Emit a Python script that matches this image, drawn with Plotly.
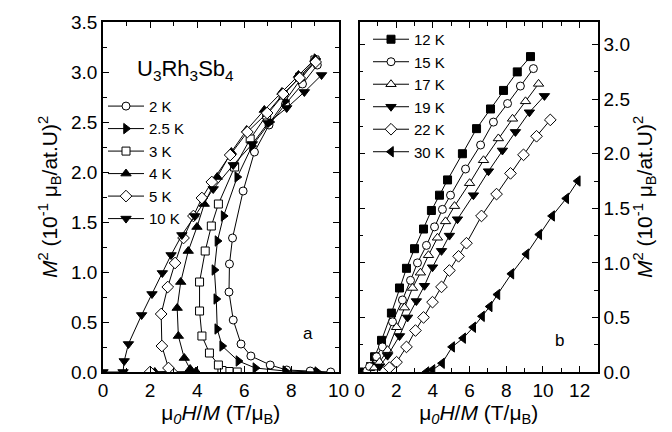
import plotly.graph_objects as go

# ---------------- Panel a (left) ----------------
x_2K = [9.67, 8.8, 7.8, 7.1, 6.28, 5.86, 5.53, 5.35, 5.37, 5.5, 5.95, 6.43, 7.05, 7.75, 8.47, 9.1]
y_2K = [0.0, 0.01, 0.02, 0.07, 0.16, 0.28, 0.52, 0.80, 1.08, 1.34, 1.81, 2.20, 2.47, 2.68, 2.88, 3.07]

x_25K = [9.1, 7.74, 6.47, 5.75, 5.06, 4.85, 4.81, 4.73, 4.86, 5.12, 5.7, 6.33, 7.1, 7.74, 8.4, 9.06]
y_25K = [0.0, 0.01, 0.04, 0.11, 0.26, 0.43, 0.73, 1.02, 1.31, 1.56, 1.95, 2.26, 2.50, 2.71, 2.93, 3.13]

x_3K = [5.7, 5.35, 5.05, 4.9, 4.52, 4.2, 4.1, 4.1, 4.34, 4.6, 4.9, 5.59, 6.25, 6.95, 7.65, 8.35, 9.0]
y_3K = [0.0, 0.005, 0.015, 0.07, 0.19, 0.36, 0.61, 0.9, 1.21, 1.46, 1.68, 2.05, 2.33, 2.57, 2.77, 2.95, 3.12]

x_4K = [2.2, 3.95, 3.7, 3.45, 3.2, 3.15, 3.3, 3.62, 3.99, 4.3, 4.85, 5.45, 6.1, 6.85, 7.6, 8.3, 9.0]
y_4K = [0.0, 0.005, 0.03, 0.14, 0.36, 0.64, 0.9, 1.21, 1.45, 1.68, 1.95, 2.2, 2.42, 2.62, 2.8, 2.97, 3.13]

x_5K = [2.0, 2.9, 2.78, 2.5, 2.47, 2.75, 3.06, 3.42, 3.84, 4.2, 4.62, 5.4, 6.13, 6.97, 7.65, 8.35, 9.03]
y_5K = [0.0, 0.005, 0.04, 0.26, 0.58, 0.85, 1.09, 1.34, 1.56, 1.74, 1.9, 2.17, 2.4, 2.59, 2.78, 2.94, 3.1]

x_10K = [0.0, 0.85, 0.9, 1.08, 1.64, 2.08, 2.52, 2.89, 3.35, 3.89, 4.68, 5.53, 6.34, 7.0, 7.8, 8.55, 9.28]
y_10K = [0.0, 0.0, 0.11, 0.28, 0.57, 0.78, 0.99, 1.17, 1.37, 1.56, 1.83, 2.07, 2.28, 2.49, 2.64, 2.8, 2.97]

# ---------------- Panel b (right) ----------------
x_12K = [0.0, 0.6, 0.82, 1.2, 1.74, 2.18, 2.56, 3.0, 3.49, 3.92, 4.36, 4.8, 5.61, 6.38, 7.14, 7.85, 8.6, 9.32]
y_12K = [0.0, 0.05, 0.14, 0.29, 0.54, 0.77, 0.95, 1.13, 1.31, 1.48, 1.62, 1.76, 2.0, 2.23, 2.41, 2.58, 2.75, 2.89]

x_15K = [0.4, 0.55, 0.93, 1.25, 1.8, 2.34, 2.78, 3.16, 3.65, 4.09, 4.52, 4.96, 5.78, 6.6, 7.3, 8.07, 8.77, 9.48]
y_15K = [0.01, 0.05, 0.14, 0.23, 0.46, 0.66, 0.84, 1.0, 1.16, 1.33, 1.49, 1.62, 1.86, 2.08, 2.29, 2.46, 2.62, 2.78]

x_17K = [0.82, 1.09, 1.53, 2.02, 2.45, 2.89, 3.32, 3.76, 4.25, 4.69, 5.18, 6.0, 6.76, 7.57, 8.34, 9.05, 9.76]
y_17K = [0.04, 0.09, 0.2, 0.41, 0.59, 0.77, 0.91, 1.07, 1.23, 1.38, 1.52, 1.73, 1.94, 2.14, 2.32, 2.48, 2.64]

x_19K = [1.09, 1.53, 2.18, 2.62, 3.1, 3.54, 3.98, 4.47, 4.9, 5.34, 6.21, 7.03, 7.79, 8.5, 9.26, 10.08]
y_19K = [0.05, 0.15, 0.33, 0.5, 0.65, 0.79, 0.96, 1.11, 1.25, 1.4, 1.62, 1.84, 2.03, 2.2, 2.38, 2.53]

x_22K = [1.63, 2.02, 2.56, 3.05, 3.49, 3.98, 4.47, 4.9, 5.4, 5.83, 6.65, 7.47, 8.23, 8.94, 9.65, 10.4]
y_22K = [0.04, 0.09, 0.23, 0.38, 0.5, 0.64, 0.78, 0.93, 1.06, 1.18, 1.43, 1.63, 1.82, 1.99, 2.16, 2.31]

x_30K = [3.65, 3.98, 4.5, 5.05, 5.65, 6.2, 6.68, 7.1, 7.52, 8.28, 9.1, 9.8, 10.5, 11.27, 11.9]
y_30K = [0.0, 0.02, 0.08, 0.23, 0.31, 0.41, 0.51, 0.6, 0.71, 0.9, 1.08, 1.26, 1.43, 1.59, 1.75]

left_series = [
    ("2 K", x_2K, y_2K, "circle", "white"),
    ("2.5 K", x_25K, y_25K, "triangle-right", "black"),
    ("3 K", x_3K, y_3K, "square", "white"),
    ("4 K", x_4K, y_4K, "triangle-up", "black"),
    ("5 K", x_5K, y_5K, "diamond", "white"),
    ("10 K", x_10K, y_10K, "triangle-down", "black"),
]
right_series = [
    ("12 K", x_12K, y_12K, "square", "black"),
    ("15 K", x_15K, y_15K, "circle", "white"),
    ("17 K", x_17K, y_17K, "triangle-up", "white"),
    ("19 K", x_19K, y_19K, "triangle-down", "black"),
    ("22 K", x_22K, y_22K, "diamond", "white"),
    ("30 K", x_30K, y_30K, "triangle-left", "black"),
]

FONT = "Liberation Sans, Arial, sans-serif"
fig = go.Figure()

def add(series, xa, ya, leg):
    for name, xs, ys, sym, fill in series:
        size = 9 if sym.startswith("triangle") or sym == "diamond" else 8
        fig.add_trace(go.Scatter(
            x=xs, y=ys, name=name, mode="lines+markers",
            xaxis=xa, yaxis=ya, legend=leg,
            line=dict(color="black", width=1),
            marker=dict(symbol=sym, size=size, color=fill,
                        line=dict(color="black", width=1)),
        ))

add(left_series, "x", "y", "legend")
add(right_series, "x2", "y2", "legend2")

W, H = 672, 432
L, R, T, B = 103, 74, 16, 60
pw = W - L - R
ph = H - T - B

def px(xp):
    return (xp - L) / pw

def py(yp):
    return (H - B - yp) / ph

common_axis = dict(
    showline=True, linecolor="black", linewidth=1.5, mirror="ticks",
    ticks="inside", ticklen=6, tickwidth=1.2, tickcolor="black",
    showgrid=False, zeroline=False,
    tickfont=dict(family=FONT, size=19, color="black"),
)
xtitle = "μ<sub><i>0</i></sub><i>H</i>/<i>M</i> (T/μ<sub>B</sub>)"
ytitle = "<i>M</i><sup>2</sup> (10<sup>-1</sup> μ<sub>B</sub>/at.U)<sup>2</sup>"
minor_x = dict(ticks="inside", dtick=1, ticklen=4, tickwidth=1.2, tickcolor="black")
minor_y = dict(ticks="inside", dtick=0.25, ticklen=4, tickwidth=1.2, tickcolor="black")

fig.update_layout(
    width=W, height=H,
    margin=dict(l=L, r=R, t=T, b=B),
    paper_bgcolor="white", plot_bgcolor="white",
    font=dict(family=FONT, size=17, color="black"),
    xaxis=dict(common_axis, domain=[0, px(338.5)], range=[0, 10], dtick=2, tick0=0,
               minor=minor_x,
               title=dict(text=xtitle, font=dict(family=FONT, size=21), standoff=2),
               anchor="y"),
    yaxis=dict(common_axis, domain=[0, 1], range=[0, 3.5], dtick=0.5, tick0=0, tickformat=".1f",
               minor=minor_y,
               title=dict(text=ytitle, font=dict(family=FONT, size=21), standoff=8),
               anchor="x"),
    xaxis2=dict(common_axis, domain=[px(359.5), 1], range=[0, 13], dtick=2, tick0=0,
                minor=minor_x,
                title=dict(text=xtitle, font=dict(family=FONT, size=21), standoff=2),
                anchor="y2"),
    yaxis2=dict(common_axis, domain=[0, 1], range=[0, 3.207], dtick=0.5, tick0=0, tickformat=".1f",
                minor=minor_y,
                title=dict(text=ytitle, font=dict(family=FONT, size=21), standoff=8),
                side="right", anchor="x2"),
    legend=dict(x=px(103), y=py(85), xanchor="left", yanchor="top",
                bgcolor="rgba(0,0,0,0)", font=dict(family=FONT, size=15),
                tracegroupgap=0, itemwidth=36),
    legend2=dict(x=px(368), y=py(17), xanchor="left", yanchor="top",
                 bgcolor="rgba(0,0,0,0)", font=dict(family=FONT, size=15),
                 tracegroupgap=0, itemwidth=36),
    showlegend=True,
    annotations=[
        dict(text="U<sub>3</sub>Rh<sub>3</sub>Sb<sub>4</sub>", x=3.5, y=3.02, xref="x", yref="y",
             showarrow=False, font=dict(family=FONT, size=22)),
        dict(text="a", x=8.7, y=0.39, xref="x", yref="y", showarrow=False,
             font=dict(family=FONT, size=17)),
        dict(text="b", x=10.9, y=0.29, xref="x2", yref="y2", showarrow=False,
             font=dict(family=FONT, size=17)),
    ],
)

fig.write_html("out.html")
